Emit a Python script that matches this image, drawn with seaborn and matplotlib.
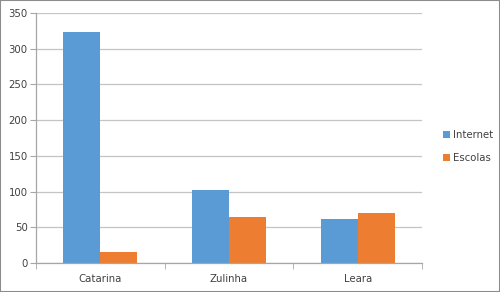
import matplotlib
matplotlib.use("Agg")
import matplotlib.pyplot as plt
import seaborn as sns
import pandas as pd
from matplotlib.patches import Rectangle
from matplotlib.ticker import FixedLocator

categories = ["Catarina", "Zulinha", "Leara"]
internet = [323, 102, 61]
escolas = [15, 64, 70]
series_names = ["Internet", "Escolas"]
colors = ["#5B9BD5", "#ED7D31"]

df = pd.DataFrame({
    "cat": categories * 2,
    "val": internet + escolas,
    "serie": [series_names[0]] * 3 + [series_names[1]] * 3,
})

sns.set_style("white")
plt.rcParams["font.family"] = ["DejaVu Sans"]

fig = plt.figure(figsize=(5, 2.92), dpi=100)
ax = fig.add_axes([0.072, 0.0993, 0.772, 0.857])
sns.barplot(data=df, x="cat", y="val", hue="serie", palette=colors,
            width=0.575, gap=0, ax=ax, saturation=1, linewidth=0,
            errorbar=None)

ax.set_xlim(-0.5, 2.5)
ax.set_ylim(0, 350)
ax.set_yticks(range(0, 351, 50))
ax.yaxis.grid(True, color="#c4c4c4", linewidth=0.9)
ax.set_axisbelow(True)
ax.set_xlabel("")
ax.set_ylabel("")

txt = "#404040"
fs = 7.3
for s in ["top", "right"]:
    ax.spines[s].set_visible(False)
for s in ["left", "bottom"]:
    ax.spines[s].set_color("#a6a6a6")
    ax.spines[s].set_linewidth(0.9)

ax.tick_params(axis="y", labelsize=fs, colors=txt, length=4, color="#a6a6a6", left=True, pad=2)
ax.tick_params(axis="x", which="major", labelsize=fs, colors=txt, length=0, pad=8)
ax.xaxis.set_minor_locator(FixedLocator([-0.5, 0.5, 1.5, 2.5]))
ax.tick_params(axis="x", which="minor", length=4, color="#a6a6a6", bottom=True)

leg = ax.legend(loc="center left", bbox_to_anchor=(1.03, 0.465), frameon=False,
                fontsize=fs, handlelength=0.7, handleheight=0.7,
                handletextpad=0.3, labelspacing=1.3)
for t in leg.get_texts():
    t.set_color(txt)

fig.patches.append(Rectangle((0, 0), 1, 1, transform=fig.transFigure,
                             fill=False, edgecolor="#8c8c8c", linewidth=1.5))

fig.savefig("out.png", dpi=100)
